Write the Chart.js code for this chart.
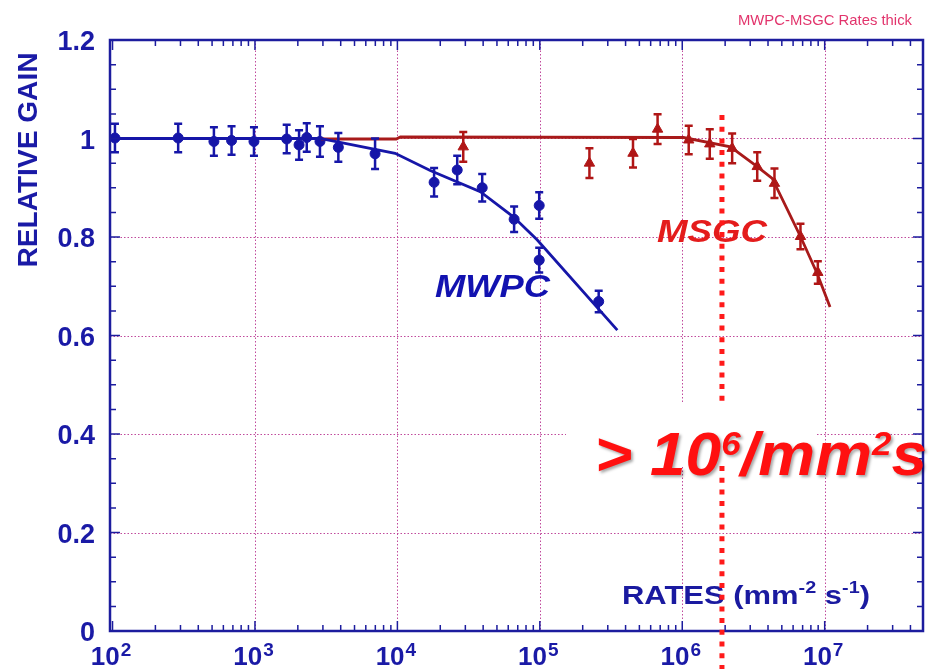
<!DOCTYPE html>
<html>
<head>
<meta charset="utf-8">
<title>MWPC-MSGC Rates thick</title>
<script src="https://cdn.jsdelivr.net/npm/chart.js@4.4.0/dist/chart.umd.min.js"></script>
<style>
html, body { margin: 0; padding: 0; background: #fff; }
</style>
</head>
<body>
<canvas id="ChartElem" width="934" height="669"></canvas>
<script>
// MWPC measured points (rate in mm^-2 s^-1, relative gain, error)
var mwpcRate = [104, 289, 515, 685, 984, 1670, 2040, 2310, 2860, 3850, 6970, 18100, 26300, 39400, 66000, 99000, 99000, 259000];
var mwpcGain = [1.001, 1.001, 0.994, 0.996, 0.994, 0.999, 0.987, 1.002, 0.994, 0.982, 0.969, 0.911, 0.936, 0.900, 0.836, 0.864, 0.753, 0.669];
var mwpcErr  = [0.029, 0.029, 0.029, 0.029, 0.029, 0.029, 0.030, 0.029, 0.031, 0.029, 0.031, 0.029, 0.029, 0.028, 0.026, 0.027, 0.025, 0.022];

// MSGC measured points
var msgcRate = [29000, 223000, 451000, 671000, 1110000, 1560000, 2240000, 3360000, 4440000, 6760000, 8950000];
var msgcGain = [0.983, 0.950, 0.970, 1.019, 0.997, 0.989, 0.980, 0.943, 0.909, 0.801, 0.728];
var msgcErr  = [0.030, 0.030, 0.029, 0.030, 0.029, 0.030, 0.030, 0.029, 0.030, 0.026, 0.023];

// fitted curves
var mwpcFitRate = [96, 2860, 9640, 17000, 38200, 65200, 96000, 350000];
var mwpcFitGain = [1.0, 1.0, 0.970, 0.935, 0.892, 0.841, 0.794, 0.611];
var msgcFitRate = [2860, 9800, 10500, 1020000, 2180000, 3360000, 4280000, 6760000, 8850000, 10900000];
var msgcFitGain = [0.999, 0.999, 1.003, 1.002, 0.983, 0.943, 0.919, 0.801, 0.726, 0.658];

// axes
var xDecades = [2, 3, 4, 5, 6, 7];
var yTicks = [0, 0.2, 0.4, 0.6, 0.8, 1, 1.2];
var yTickLabels = ["0", "0.2", "0.4", "0.6", "0.8", "1", "1.2"];
var limitRate = 1.9e6;

var BLUE = "#1616a8";
var AXIS = "#1c1c9e";
var DRED = "#b01616";
var FONT = "'Liberation Sans', Arial, sans-serif";

function toPoints(xs, ys) {
    var pts = [];
    for (let i = 0; i < xs.length; i++) {
        pts.push({ x: xs[i], y: ys[i] });
    }
    return pts;
}

// draws a run of text pieces, stretched to a given width
function drawRich(ctx, parts, x, base, width) {
    var total = 0;
    for (let i = 0; i < parts.length; i++) {
        ctx.font = parts[i].font;
        total += ctx.measureText(parts[i].t).width;
    }
    ctx.save();
    ctx.translate(x, base);
    ctx.scale(width / total, 1);
    ctx.textAlign = "left";
    ctx.textBaseline = "alphabetic";
    var cx = 0;
    for (let i = 0; i < parts.length; i++) {
        ctx.font = parts[i].font;
        ctx.fillText(parts[i].t, cx, parts[i].dy || 0);
        cx += ctx.measureText(parts[i].t).width;
    }
    ctx.restore();
}

function drawErrors(ctx, xs, ys, es, sx, sy) {
    for (let i = 0; i < xs.length; i++) {
        var px = sx.getPixelForValue(xs[i]);
        var top = sy.getPixelForValue(ys[i] + es[i]);
        var bot = sy.getPixelForValue(ys[i] - es[i]);
        ctx.beginPath();
        ctx.moveTo(px, top); ctx.lineTo(px, bot);
        ctx.moveTo(px - 4, top); ctx.lineTo(px + 4, top);
        ctx.moveTo(px - 4, bot); ctx.lineTo(px + 4, bot);
        ctx.stroke();
    }
}

var gridPlugin = {
    id: "gridPlugin",
    beforeDatasetsDraw: function (chart) {
        var ctx = chart.ctx, a = chart.chartArea;
        var sx = chart.scales.x, sy = chart.scales.y;
        ctx.save();
        ctx.strokeStyle = "#c04a9c";
        ctx.lineWidth = 1;
        ctx.setLineDash([1.5, 2]);
        for (let i = 1; i < yTicks.length - 1; i++) {
            var py = Math.round(sy.getPixelForValue(yTicks[i])) + 0.5;
            ctx.beginPath(); ctx.moveTo(a.left, py); ctx.lineTo(a.right, py); ctx.stroke();
        }
        for (let i = 1; i < xDecades.length; i++) {
            var px = Math.round(sx.getPixelForValue(Math.pow(10, xDecades[i]))) + 0.5;
            ctx.beginPath(); ctx.moveTo(px, a.top); ctx.lineTo(px, a.bottom); ctx.stroke();
        }
        ctx.restore();
    },
    afterDatasetsDraw: function (chart) {
        var ctx = chart.ctx, a = chart.chartArea;
        var sx = chart.scales.x, sy = chart.scales.y;
        ctx.save();

        // error bars
        ctx.lineWidth = 2.5;
        ctx.strokeStyle = BLUE;
        drawErrors(ctx, mwpcRate, mwpcGain, mwpcErr, sx, sy);
        ctx.strokeStyle = DRED;
        drawErrors(ctx, msgcRate, msgcGain, msgcErr, sx, sy);

        // labels in the plot
        ctx.fillStyle = "#1212b0";
        drawRich(ctx, [{ t: "MWPC", font: "italic bold 31px " + FONT }], 435, 297, 115);
        ctx.fillStyle = "#e41c1c";
        drawRich(ctx, [{ t: "MSGC", font: "italic bold 32px " + FONT }], 657, 242, 110);
        ctx.fillStyle = "#1a1aa0";
        drawRich(ctx, [
            { t: "RATES ", font: "bold 25px " + FONT },
            { t: "(mm", font: "bold 25px " + FONT },
            { t: "-2", font: "bold 16px " + FONT, dy: -11 },
            { t: " s", font: "bold 25px " + FONT },
            { t: "-1", font: "bold 16px " + FONT, dy: -11 },
            { t: ")", font: "bold 25px " + FONT }
        ], 622, 604, 248);

        // frame
        ctx.strokeStyle = AXIS;
        ctx.lineWidth = 2.5;
        ctx.strokeRect(a.left, a.top, a.right - a.left, a.bottom - a.top);

        // x ticks, top and bottom
        ctx.lineWidth = 1.5;
        for (let d = 1; d <= 7; d++) {
            for (let k = 1; k <= 9; k++) {
                var v = k * Math.pow(10, d);
                if (v < sx.min || v > sx.max) continue;
                var px = sx.getPixelForValue(v);
                var len = (k === 1) ? 10 : 6;
                ctx.beginPath();
                ctx.moveTo(px, a.bottom); ctx.lineTo(px, a.bottom - len);
                ctx.moveTo(px, a.top); ctx.lineTo(px, a.top + len);
                ctx.stroke();
            }
        }
        // y ticks, left and right
        for (let j = 0; j <= 24; j++) {
            var yv = j * 0.05;
            var py = sy.getPixelForValue(yv);
            var ylen = (j % 4 === 0) ? 10 : 6;
            ctx.beginPath();
            ctx.moveTo(a.left, py); ctx.lineTo(a.left + ylen, py);
            ctx.moveTo(a.right, py); ctx.lineTo(a.right - ylen, py);
            ctx.stroke();
        }

        // tick labels
        ctx.fillStyle = "#1a1aa6";
        ctx.font = "bold 27px " + FONT;
        ctx.textAlign = "right";
        ctx.textBaseline = "middle";
        for (let i = 0; i < yTicks.length; i++) {
            ctx.fillText(yTickLabels[i], 95, sy.getPixelForValue(yTicks[i]) + 3);
        }
        for (let i = 0; i < xDecades.length; i++) {
            var cxp = sx.getPixelForValue(Math.pow(10, xDecades[i]));
            ctx.font = "bold 26px " + FONT;
            var w1 = ctx.measureText("10").width;
            ctx.font = "bold 19px " + FONT;
            var w2 = ctx.measureText(String(xDecades[i])).width;
            var left = cxp - 2 - (w1 + w2) / 2;
            ctx.textAlign = "left";
            ctx.textBaseline = "alphabetic";
            ctx.font = "bold 26px " + FONT;
            ctx.fillText("10", left, 665);
            ctx.font = "bold 19px " + FONT;
            ctx.fillText(String(xDecades[i]), left + w1 + 1, 656);
        }

        // y axis title
        ctx.save();
        ctx.translate(37, 160);
        ctx.rotate(-Math.PI / 2);
        ctx.font = "bold 27px " + FONT;
        ctx.fillStyle = "#1a1aa6";
        var tw = ctx.measureText("RELATIVE GAIN").width;
        ctx.scale(215 / tw, 1);
        ctx.textAlign = "center";
        ctx.textBaseline = "alphabetic";
        ctx.fillText("RELATIVE GAIN", 0, 0);
        ctx.restore();

        // title
        ctx.fillStyle = "#e2346c";
        drawRich(ctx, [{ t: "MWPC-MSGC Rates thick", font: "15px " + FONT }], 738, 25, 174);

        // dotted limit line
        var lx = sx.getPixelForValue(limitRate);
        ctx.strokeStyle = "#ff1a1a";
        ctx.lineWidth = 5;
        ctx.setLineDash([5, 6.7]);
        ctx.beginPath();
        ctx.moveTo(lx, 115); ctx.lineTo(lx, 669);
        ctx.stroke();
        ctx.setLineDash([]);

        // big label with its white box
        ctx.fillStyle = "#ffffff";
        ctx.fillRect(566, 402, 251, 64);
        ctx.shadowColor = "rgba(0,0,0,0.35)";
        ctx.shadowOffsetX = 2;
        ctx.shadowOffsetY = 2;
        ctx.shadowBlur = 3;
        ctx.fillStyle = "#ff1010";
        drawRich(ctx, [
            { t: "> ", font: "italic bold 62px " + FONT },
            { t: "10", font: "italic bold 62px " + FONT },
            { t: "6", font: "italic bold 34px " + FONT, dy: -20 },
            { t: "/mm", font: "italic bold 62px " + FONT },
            { t: "2", font: "italic bold 34px " + FONT, dy: -20 },
            { t: "s", font: "italic bold 62px " + FONT }
        ], 595, 475, 332);

        ctx.restore();
    }
};

var chartContext = document.getElementById("ChartElem").getContext("2d");
var chart = new Chart(chartContext, {
    type: "scatter",
    data: {
        datasets: [
            {
                label: "MWPC fit",
                data: toPoints(mwpcFitRate, mwpcFitGain),
                showLine: true,
                borderColor: BLUE,
                borderWidth: 2.8,
                pointRadius: 0,
                tension: 0
            },
            {
                label: "MSGC fit",
                data: toPoints(msgcFitRate, msgcFitGain),
                showLine: true,
                borderColor: "#a81a1a",
                borderWidth: 2.8,
                pointRadius: 0,
                tension: 0
            },
            {
                label: "MWPC",
                data: toPoints(mwpcRate, mwpcGain),
                pointStyle: "circle",
                pointRadius: 5,
                backgroundColor: BLUE,
                borderColor: BLUE,
                borderWidth: 1
            },
            {
                label: "MSGC",
                data: toPoints(msgcRate, msgcGain),
                pointStyle: "triangle",
                pointRadius: 6,
                backgroundColor: DRED,
                borderColor: DRED,
                borderWidth: 1
            }
        ]
    },
    options: {
        responsive: false,
        devicePixelRatio: 1,
        animation: false,
        events: [],
        layout: { padding: { left: 110, right: 11, top: 40, bottom: 38 } },
        plugins: { legend: { display: false }, tooltip: { enabled: false } },
        scales: {
            x: { type: "logarithmic", min: 96, max: 4.9e7, display: false },
            y: { type: "linear", min: 0, max: 1.2, display: false }
        }
    },
    plugins: [gridPlugin]
});
</script>
</body>
</html>
